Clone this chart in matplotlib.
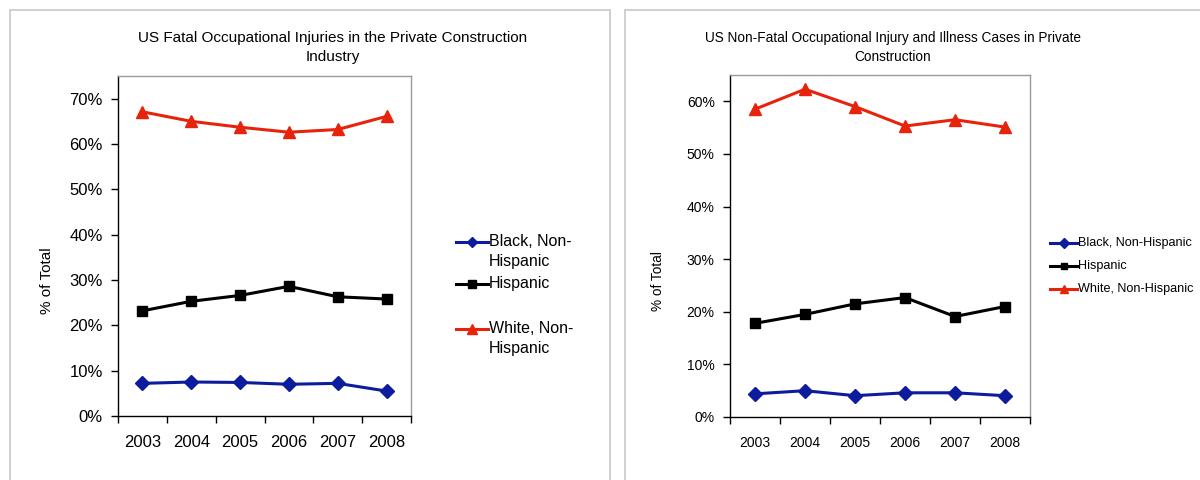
import matplotlib
matplotlib.use('Agg')
import matplotlib.pyplot as plt
from matplotlib.patches import Rectangle
from matplotlib.lines import Line2D
from matplotlib.ticker import FuncFormatter, MultipleLocator
import numpy as np

plt.rcParams['font.family'] = ['Liberation Sans', 'DejaVu Sans']

# ---- data ----
years = ['2003', '2004', '2005', '2006', '2007', '2008']

fatal_black = [7.2, 7.5, 7.4, 7.0, 7.2, 5.5]
fatal_hisp = [23.2, 25.3, 26.6, 28.6, 26.3, 25.8]
fatal_white = [67.1, 65.0, 63.7, 62.6, 63.2, 66.1]

nonfatal_black = [4.4, 5.0, 4.05, 4.6, 4.6, 4.05]
nonfatal_hisp = [17.8, 19.5, 21.5, 22.7, 19.1, 21.0]
nonfatal_white = [58.5, 62.3, 59.0, 55.3, 56.5, 55.1]

RED = '#e8230c'
BLUE = '#0c1c9c'
BLACK = '#000000'
STYLES = [(BLUE, 'D', 7), (BLACK, 's', 7), (RED, '^', 9)]
W, H = 1200, 480

fig = plt.figure(figsize=(12, 4.8), dpi=100, facecolor='white')

def px(x0, y0, x1, y1):
    # pixel box (top-left origin) -> figure fraction
    return [x0 / W, 1 - y1 / H, (x1 - x0) / W, (y1 - y0) / H]

# panel frames
for x0, x1 in [(10, 610), (625, 1210)]:
    fig.add_artist(Rectangle((x0 / W, -0.05), (x1 - x0) / W, 1 - 10 / H + 0.05,
                             transform=fig.transFigure, fill=False,
                             edgecolor='#c8c8c8', linewidth=1.2, clip_on=False))

def panel(rect, series, ymax, title, title_x, title_fs, tick_fs, ylabel_x,
          legend_labels, legend_x, legend_ys, legend_fs, legend_len, legend_ms):
    ax = fig.add_axes(px(*rect))
    x = np.arange(len(years))
    for vals, (col, mk, ms) in zip(series, STYLES):
        ax.plot(x, vals, color=col, lw=2.2, marker=mk, ms=ms)
    ax.set_xlim(-0.5, len(years) - 0.5)
    ax.set_ylim(0, ymax)
    ax.yaxis.set_major_locator(MultipleLocator(10))
    ax.yaxis.set_major_formatter(FuncFormatter(lambda v, p: f'{v:.0f}%'))
    ax.set_xticks(np.arange(-0.5, len(years)), minor=False)
    ax.set_xticklabels([''] * (len(years) + 1))
    ax.set_xticks(x, minor=True)
    ax.set_xticklabels(years, minor=True)
    ax.tick_params(axis='x', which='minor', length=0, pad=14, labelsize=tick_fs)
    ax.tick_params(axis='x', which='major', direction='out', length=5, width=1)
    ax.tick_params(axis='y', direction='out', length=5, width=1, labelsize=tick_fs, pad=6)
    for s in ['top', 'right']:
        ax.spines[s].set_color('#9a9a9a')
    for s in ['left', 'bottom']:
        ax.spines[s].set_color('#000000')
    for s in ax.spines.values():
        s.set_linewidth(1.0)
    fig.text(title_x / W, 1 - 31 / H, title, ha='center', va='top',
             fontsize=title_fs, linespacing=1.45)
    fig.text(ylabel_x / W, 1 - 281 / H, '% of Total', rotation=90,
             ha='center', va='center', fontsize=title_fs)
    # legend, Excel style: marker aligned with first text line
    for lab, ly, (col, mk, ms) in zip(legend_labels, legend_ys, STYLES):
        yf = 1 - ly / H
        fig.add_artist(Line2D([legend_x / W, (legend_x + legend_len) / W], [yf, yf],
                              transform=fig.transFigure, color=col, lw=2.2))
        fig.add_artist(Line2D([(legend_x + legend_len / 2) / W], [yf],
                              transform=fig.transFigure, color=col, marker=mk,
                              ms=ms * legend_ms, lw=0))
        fig.text((legend_x + legend_len + 1) / W, yf + legend_fs * 0.66 / H, lab,
                 ha='left', va='top', fontsize=legend_fs, linespacing=1.35)
    return ax

panel((118, 76, 411, 416), (fatal_black, fatal_hisp, fatal_white), 75,
      'US Fatal Occupational Injuries in the Private Construction\nIndustry',
      333, 11, 12, 47,
      ['Black, Non-\nHispanic', 'Hispanic', 'White, Non-\nHispanic'],
      456, [242, 284, 329], 11.5, 32, 0.75)

panel((730, 75, 1030, 417), (nonfatal_black, nonfatal_hisp, nonfatal_white), 65,
      'US Non-Fatal Occupational Injury and Illness Cases in Private\nConstruction',
      893, 9.8, 10, 658,
      ['Black, Non-Hispanic', 'Hispanic', 'White, Non-Hispanic'],
      1050, [243, 266, 289], 9.1, 27, 0.7)

fig.savefig('out.png', dpi=100, facecolor='white')
